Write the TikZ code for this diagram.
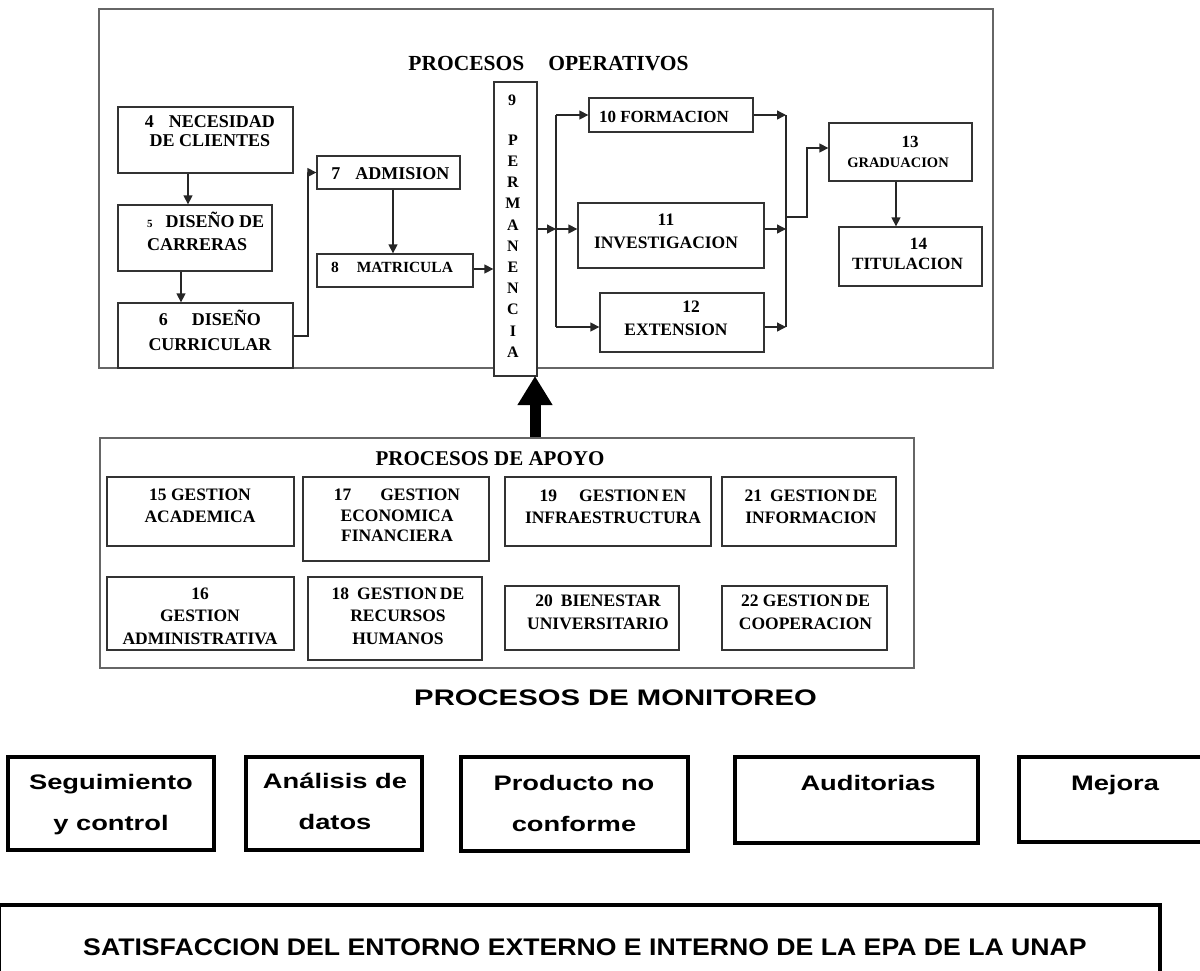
\documentclass[tikz,border=0pt]{standalone}
\usepackage{fontspec}
\setmainfont{Liberation Serif}
\newfontfamily\monA{Liberation Sans}[FakeStretch=1.3]
\newfontfamily\monB{Liberation Sans}[FakeStretch=1.11]
\usetikzlibrary{arrows.meta}
\newcommand\fsz[2]{\fontsize{#1pt}{#2pt}\selectfont}
\newcommand\bx[6][pbox]{\pgfmathsetmacro\myw{#5-#3}\pgfmathsetmacro\myh{#6-#4}%
  \node[#1, minimum width=\myw pt, minimum height=\myh pt] (#2) at ({(#3+#5)/2},{(#4+#6)/2}) {};}
\begin{document}
\begin{tikzpicture}[x=1pt,y=-1pt,
  pbox/.style={draw=black!80, line width=1.3pt, fill=white, inner sep=0pt},
  frame/.style={draw=black!60, line width=1.8pt, inner sep=0pt},
  mbox/.style={draw=black, line width=3.5pt, inner sep=0pt},
  bbox/.style={draw=black, line width=4.5pt, inner sep=0pt},
  txt/.style={inner sep=0pt, align=center},
  conn/.style={draw=black!85, line width=1.3pt},
  arr/.style={conn, -{Triangle[length=9pt,width=9pt]}},
  mtxt/.style={inner sep=0pt, align=center, font=\monA\bfseries\fsz{21}{41}}
]
\useasboundingbox (0,0) rectangle (1200,970);
% ---------------- PROCESOS OPERATIVOS
\bx[frame]{ops}{99}{9}{993}{368}
\node[txt, anchor=base, font=\bfseries\fsz{21.5}{24}] (tops) at (548.5,70) {PROCESOS\hspace{24pt}OPERATIVOS};
\bx{b4}{118}{107}{293}{173}
\node[txt, font=\bfseries\fsz{18}{19}] (t4) at (210,131.5) {4\hspace{15pt}NECESIDAD\\DE CLIENTES};
\bx{b5}{118}{205}{272}{271}
\node[txt, align=left, anchor=west, font=\bfseries\fsz{18}{23}] (t5) at (147,231) {{\fsz{11}{13}5}\hspace{13pt}DISEÑO DE\\CARRERAS};
\bx{b6}{118}{303}{293}{368}
\node[txt, font=\bfseries\fsz{18}{25}] (t6) at (210,330.5) {6\hspace{24pt}DISEÑO\\CURRICULAR};
\bx{b7}{317}{156}{460}{189}
\node[txt, font=\bfseries\fsz{18}{20}] (t7) at (390.5,173.5) {7\hspace{15pt}ADMISION};
\bx{b8}{317}{254}{473}{287}
\node[txt, font=\bfseries\fsz{15.5}{18}] (t8) at (392,267) {8\hspace{18pt}MATRICULA};
\bx{b9}{494}{82}{537}{376}
\node[txt, font=\bfseries\fsz{16}{20}] (t9a) at (512,100) {9};
\node[txt, font=\bfseries\fsz{16}{21.2}] (t9b) at (513,246) {P\\E\\R\\M\\A\\N\\E\\N\\C\\I\\A};
\bx{b10}{589}{98}{753}{132}
\node[txt, font=\bfseries\fsz{17}{20}] (t10) at (664,117) {10 FORMACION};
\bx{b11}{578}{203}{764}{268}
\node[txt, font=\bfseries\fsz{17.5}{23}] (t11) at (666,231.5) {11\\INVESTIGACION};
\bx{b12}{600}{293}{764}{352}
\node[txt, font=\bfseries\fsz{17.5}{22.5}] (t12) at (676,318.5) {\hspace*{30pt}12\\EXTENSION};
\bx{b13}{829}{123}{972}{181}
\node[txt, font=\bfseries\fsz{17}{20}] (t13) at (898,152) {\hspace*{24pt}13\\{\fsz{14.5}{20}GRADUACION}};
\bx{b14}{839}{227}{982}{286}
\node[txt, font=\bfseries\fsz{17.2}{20}] (t14) at (907.5,254) {\hspace*{22pt}14\\TITULACION};
% connectors
\draw[arr] (188,0 |- b4.south) -- (188,0 |- b5.north);
\draw[arr] (181,0 |- b5.south) -- (181,0 |- b6.north);
\draw[arr] (b6.east |- 0,336) -- (308,336) -- (308,0 |- b7.west) -- (b7.west);
\draw[arr] (393,0 |- b7.south) -- (393,0 |- b8.north);
\draw[arr] (b8.east |- 0,269) -- (b9.west |- 0,269);
\coordinate (jL) at (556,229);
\draw[arr] (b9.east |- jL) -- (jL);
\draw[conn] (556,0 |- b10.west) -- (556,327);
\draw[arr] (556,0 |- b10.west) -- (b10.west);
\draw[arr] (jL) -- (b11.west |- jL);
\draw[arr] (556,327) -- (b12.west |- 0,327);
\coordinate (jR) at (786,217);
\draw[arr] (b10.east) -- (786,0 |- b10.east);
\draw[arr] (b11.east |- 0,229) -- (786,229);
\draw[arr] (b12.east |- 0,327) -- (786,327);
\draw[conn] (786,0 |- b10.east) -- (786,327);
\draw[arr] (jR) -- (807,217) -- (807,148) -- (b13.west |- 0,148);
\draw[arr] (896,0 |- b13.south) -- (896,0 |- b14.north);
% big arrow
\coordinate (bigtop) at (535,376);
\coordinate (bigbot) at (535,438);
\draw[line width=11pt, -{Triangle[length=29pt,width=33pt]}] (bigbot) -- (bigtop);
% ---------------- PROCESOS DE APOYO
\bx[frame]{apoyo}{100}{438}{914}{668}
\node[txt, anchor=base, font=\bfseries\fsz{21}{24}] (tap) at (490,465) {PROCESOS DE APOYO};
\bx{b15}{107}{477}{294}{546}
\node[txt, font=\bfseries\fsz{17.5}{22}] (t15) at (200,506) {15 GESTION\\ACADEMICA};
\bx{b17}{303}{477}{489}{561}
\node[txt, font=\bfseries\fsz{17.5}{20.5}] (t17) at (397,515.5) {17\hspace{29pt}GESTION\\ECONOMICA\\FINANCIERA};
\bx{b19}{505}{477}{711}{546}
\node[txt, font=\bfseries\fsz{17.5}{22}] (t19) at (613,506.5) {19\hspace{22pt}GESTION\hspace{3pt}EN\\INFRAESTRUCTURA};
\bx{b21}{722}{477}{896}{546}
\node[txt, font=\bfseries\fsz{17.5}{22}] (t21) at (811,506.5) {21\hspace{8pt}GESTION\hspace{3pt}DE\\INFORMACION};
\bx{b16}{107}{577}{294}{650}
\node[txt, font=\bfseries\fsz{17.5}{22.5}] (t16) at (200,616) {16\\GESTION\\ADMINISTRATIVA};
\bx{b18}{308}{577}{482}{660}
\node[txt, font=\bfseries\fsz{17.5}{22.5}] (t18) at (398,616) {18\hspace{8pt}GESTION\hspace{3pt}DE\\RECURSOS\\HUMANOS};
\bx{b20}{505}{586}{679}{650}
\node[txt, font=\bfseries\fsz{17.5}{23}] (t20) at (598,612) {20\hspace{8pt}BIENESTAR\\UNIVERSITARIO};
\bx{b22}{722}{586}{887}{650}
\node[txt, font=\bfseries\fsz{17.5}{23}] (t22) at (805.5,612) {22 GESTION\hspace{3pt}DE\\COOPERACION};
% ---------------- PROCESOS DE MONITOREO
\node[txt, anchor=base, font=\monA\bfseries\fsz{22.5}{26}] (tmon) at (615.5,705) {PROCESOS DE MONITOREO};
\bx[mbox]{m1}{8}{757}{214}{850}
\node[mtxt] (tm1) at (111,805) {Seguimiento\\y control};
\bx[mbox]{m2}{246}{757}{422}{850}
\node[mtxt] (tm2) at (335,801) {Análisis de\\datos};
\bx[mbox]{m3}{461}{757}{688}{851}
\node[mtxt] (tm3) at (574,803) {Producto no\\conforme};
\bx[mbox]{m4}{735}{757}{978}{843}
\node[mtxt, anchor=base] (tm4) at (868,790) {Auditorias};
\bx[mbox]{m5}{1019}{757}{1210}{842}
\node[mtxt, anchor=base] (tm5) at (1115,790) {Mejora};
% ---------------- SATISFACCION
\bx[bbox]{sat}{-1}{905}{1160}{1000}
\node[txt, anchor=base, font=\monB\bfseries\fsz{24}{28}] (tsat) at (585,955) {SATISFACCION DEL ENTORNO EXTERNO E INTERNO DE LA EPA DE LA UNAP};
\end{tikzpicture}
\end{document}
